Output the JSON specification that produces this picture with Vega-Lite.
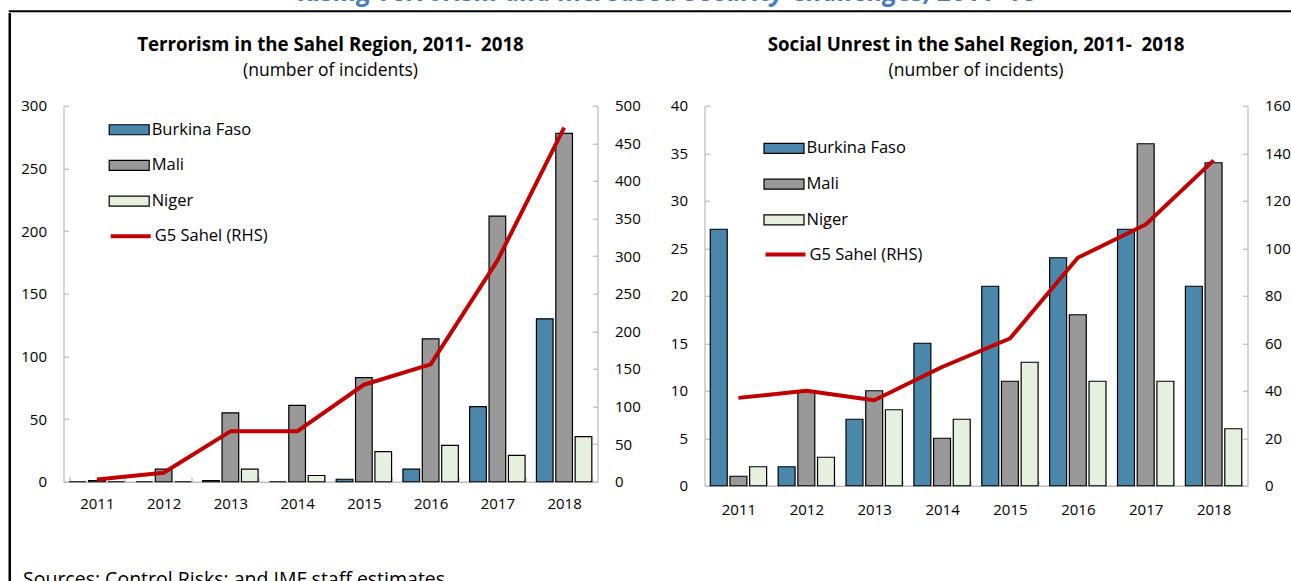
{
  "$schema": "https://vega.github.io/schema/vega-lite/v6.json",
  "padding": {"left": 8.5, "top": -21, "right": 0, "bottom": 0},
  "background": "white",
  "title": {"text": "Rising Terrorism and Increased Security Challenges, 2011–18", "font": "Open Sans", "fontSize": 26, "fontWeight": "bold", "fontStyle": "italic", "color": "#4a7ebb", "anchor": "middle", "offset": 4.75, "dx": 17},
  "datasets": {
    "terror": [
      {"year": "2011", "country": "Burkina Faso", "value": 0}, {"year": "2011", "country": "Mali", "value": 1}, {"year": "2011", "country": "Niger", "value": 0},
      {"year": "2012", "country": "Burkina Faso", "value": 0}, {"year": "2012", "country": "Mali", "value": 10}, {"year": "2012", "country": "Niger", "value": 0},
      {"year": "2013", "country": "Burkina Faso", "value": 1}, {"year": "2013", "country": "Mali", "value": 55}, {"year": "2013", "country": "Niger", "value": 10},
      {"year": "2014", "country": "Burkina Faso", "value": 0}, {"year": "2014", "country": "Mali", "value": 61}, {"year": "2014", "country": "Niger", "value": 5},
      {"year": "2015", "country": "Burkina Faso", "value": 2}, {"year": "2015", "country": "Mali", "value": 83}, {"year": "2015", "country": "Niger", "value": 24},
      {"year": "2016", "country": "Burkina Faso", "value": 10}, {"year": "2016", "country": "Mali", "value": 114}, {"year": "2016", "country": "Niger", "value": 29},
      {"year": "2017", "country": "Burkina Faso", "value": 60}, {"year": "2017", "country": "Mali", "value": 212}, {"year": "2017", "country": "Niger", "value": 21},
      {"year": "2018", "country": "Burkina Faso", "value": 130}, {"year": "2018", "country": "Mali", "value": 278}, {"year": "2018", "country": "Niger", "value": 36}
    ],
    "terror_g5": [
      {"year": "2011", "g5": 3}, {"year": "2012", "g5": 12}, {"year": "2013", "g5": 67}, {"year": "2014", "g5": 67},
      {"year": "2015", "g5": 129}, {"year": "2016", "g5": 156}, {"year": "2017", "g5": 294}, {"year": "2018", "g5": 471}
    ],
    "unrest": [
      {"year": "2011", "country": "Burkina Faso", "value": 27}, {"year": "2011", "country": "Mali", "value": 1}, {"year": "2011", "country": "Niger", "value": 2},
      {"year": "2012", "country": "Burkina Faso", "value": 2}, {"year": "2012", "country": "Mali", "value": 10}, {"year": "2012", "country": "Niger", "value": 3},
      {"year": "2013", "country": "Burkina Faso", "value": 7}, {"year": "2013", "country": "Mali", "value": 10}, {"year": "2013", "country": "Niger", "value": 8},
      {"year": "2014", "country": "Burkina Faso", "value": 15}, {"year": "2014", "country": "Mali", "value": 5}, {"year": "2014", "country": "Niger", "value": 7},
      {"year": "2015", "country": "Burkina Faso", "value": 21}, {"year": "2015", "country": "Mali", "value": 11}, {"year": "2015", "country": "Niger", "value": 13},
      {"year": "2016", "country": "Burkina Faso", "value": 24}, {"year": "2016", "country": "Mali", "value": 18}, {"year": "2016", "country": "Niger", "value": 11},
      {"year": "2017", "country": "Burkina Faso", "value": 27}, {"year": "2017", "country": "Mali", "value": 36}, {"year": "2017", "country": "Niger", "value": 11},
      {"year": "2018", "country": "Burkina Faso", "value": 21}, {"year": "2018", "country": "Mali", "value": 34}, {"year": "2018", "country": "Niger", "value": 6}
    ],
    "unrest_g5": [
      {"year": "2011", "g5": 37}, {"year": "2012", "g5": 40}, {"year": "2013", "g5": 36}, {"year": "2014", "g5": 50},
      {"year": "2015", "g5": 62}, {"year": "2016", "g5": 96}, {"year": "2017", "g5": 110}, {"year": "2018", "g5": 137}
    ]
  },
  "vconcat": [
    {
      "width": 1282,
      "height": 0.5,
      "view": {"stroke": "black", "strokeWidth": 1.5},
      "data": {"values": []},
      "mark": "point"
    },
    {
      "hconcat": [
        {
          "width": 0.5,
          "height": 600,
          "view": {"stroke": "black", "strokeWidth": 2},
          "data": {"values": []},
          "mark": "point"
        },
        {
          "vconcat": [
            {
              "width": 0.5,
              "height": 0.5,
              "data": {"values": []},
              "mark": "point"
            },
            {
              "hconcat": [
                {
                  "width": 534,
                  "height": 376,
                  "title": {"text": "Terrorism in the Sahel Region, 2011-\u00a0 2018", "subtitle": "(number of incidents)"},
                  "layer": [
                    {
                      "data": {"name": "terror"},
                      "mark": {"type": "bar", "stroke": "black", "strokeWidth": 1.2},
                      "encoding": {
                        "x": {"field": "year", "type": "ordinal", "scale": {"paddingInner": 0.17, "paddingOuter": 0.085},
                              "axis": {"title": "Sources: Control Risks; and IMF staff estimates.", "titleX": -41, "titleY": 104, "titleAlign": "left", "titleBaseline": "alphabetic", "titleFontSize": 19.5, "titleFontWeight": "normal", "titleColor": "#000", "labelPadding": 20, "tickBand": "extent", "labelAngle": 0}},
                        "xOffset": {"field": "country", "type": "nominal", "scale": {"paddingInner": 0.14, "paddingOuter": 0}},
                        "y": {"field": "value", "type": "quantitative", "scale": {"domain": [0, 300], "nice": false},
                              "axis": {"orient": "left", "values": [0, 50, 100, 150, 200, 250, 300], "title": "\u00a0", "titleAngle": 0, "titleX": -52, "titleY": 0, "titleAlign": "left", "titleBaseline": "top", "titleFontSize": 10}},
                        "fill": {"field": "country", "type": "nominal",
                                 "scale": {"domain": ["Burkina Faso", "Mali", "Niger"], "range": ["#4a87ab", "#999999", "#e6f0df"]},
                                 "legend": {"orient": "none", "legendX": 47.2, "legendY": 5.5, "title": null, "symbolType": "M-1.12,-0.28H1.12V0.28H-1.12Z", "symbolStrokeColor": "#000", "symbolStrokeWidth": 1.2}}
                      }
                    },
                    {
                      "data": {"name": "terror_g5"},
                      "mark": {"type": "line", "strokeWidth": 4, "strokeJoin": "round"},
                      "encoding": {
                        "x": {"field": "year", "type": "ordinal"},
                        "y": {"field": "g5", "type": "quantitative", "scale": {"domain": [0, 500], "nice": false},
                              "axis": {"orient": "right", "values": [0, 50, 100, 150, 200, 250, 300, 350, 400, 450, 500], "title": null}},
                        "stroke": {"datum": "G5 Sahel (RHS)", "type": "nominal", "scale": {"range": ["#c00000"]},
                                   "legend": {"orient": "none", "legendX": 47.2, "legendY": 110.5, "title": null, "symbolType": "M-1.12,0H1.12", "symbolStrokeWidth": 4}}
                      }
                    }
                  ],
                  "resolve": {"scale": {"y": "independent"}}
                },
                {
                  "width": 543,
                  "height": 380,
                  "title": {"text": "Social Unrest in the Sahel Region, 2011-\u00a0 2018", "subtitle": "(number of incidents)"},
                  "layer": [
                    {
                      "data": {"name": "unrest"},
                      "mark": {"type": "bar", "stroke": "black", "strokeWidth": 1.2},
                      "encoding": {
                        "x": {"field": "year", "type": "ordinal", "scale": {"paddingInner": 0.17, "paddingOuter": 0.085},
                              "axis": {"title": null, "labelPadding": 22, "tickBand": "extent", "labelAngle": 0}},
                        "xOffset": {"field": "country", "type": "nominal", "scale": {"paddingInner": 0.14, "paddingOuter": 0}},
                        "y": {"field": "value", "type": "quantitative", "scale": {"domain": [0, 40], "nice": false},
                              "axis": {"orient": "left", "values": [0, 5, 10, 15, 20, 25, 30, 35, 40], "title": null}},
                        "fill": {"field": "country", "type": "nominal",
                                 "scale": {"domain": ["Burkina Faso", "Mali", "Niger"], "range": ["#4a87ab", "#999999", "#e6f0df"]},
                                 "legend": {"orient": "none", "legendX": 61, "legendY": 24.2, "title": null, "symbolType": "M-1.12,-0.28H1.12V0.28H-1.12Z", "symbolStrokeColor": "#000", "symbolStrokeWidth": 1.2}}
                      }
                    },
                    {
                      "data": {"name": "unrest_g5"},
                      "mark": {"type": "line", "strokeWidth": 4, "strokeJoin": "round"},
                      "encoding": {
                        "x": {"field": "year", "type": "ordinal"},
                        "y": {"field": "g5", "type": "quantitative", "scale": {"domain": [0, 160], "nice": false},
                              "axis": {"orient": "right", "values": [0, 20, 40, 60, 80, 100, 120, 140, 160], "title": null}},
                        "stroke": {"datum": "G5 Sahel (RHS)", "type": "nominal", "scale": {"range": ["#c00000"]},
                                   "legend": {"orient": "none", "legendX": 61, "legendY": 128.8, "title": null, "symbolType": "M-1.12,0H1.12", "symbolStrokeWidth": 4}}
                      }
                    }
                  ],
                  "resolve": {"scale": {"y": "independent"}}
                }
              ],
              "spacing": 29,
              "resolve": {
                "scale": {"x": "independent", "y": "independent", "xOffset": "independent", "fill": "independent", "stroke": "independent"},
                "legend": {"fill": "independent", "stroke": "independent"}
              }
            }
          ],
          "spacing": 19.75
        }
      ],
      "spacing": 0
    }
  ],
  "spacing": 0,
  "config": {
    "font": "Open Sans",
    "view": {"stroke": null},
    "title": {"fontSize": 18.7, "fontWeight": "bold", "subtitleFontSize": 17.5, "subtitlePadding": 8, "offset": 19, "anchor": "middle", "color": "#000", "subtitleColor": "#000", "subtitleFont": "Open Sans"},
    "axis": {"grid": false, "domainColor": "#bfbfbf", "tickColor": "#bfbfbf", "domainWidth": 1.3, "tickWidth": 1.3, "tickSize": -5, "labelFontSize": 15, "labelColor": "#000", "labelOverlap": false, "labelFlush": false},
    "axisY": {"labelPadding": 22},
    "legend": {"labelFontSize": 16.5, "labelColor": "#000", "padding": 0, "rowPadding": 8.7, "labelOffset": 4, "symbolSize": 1275}
  }
}
